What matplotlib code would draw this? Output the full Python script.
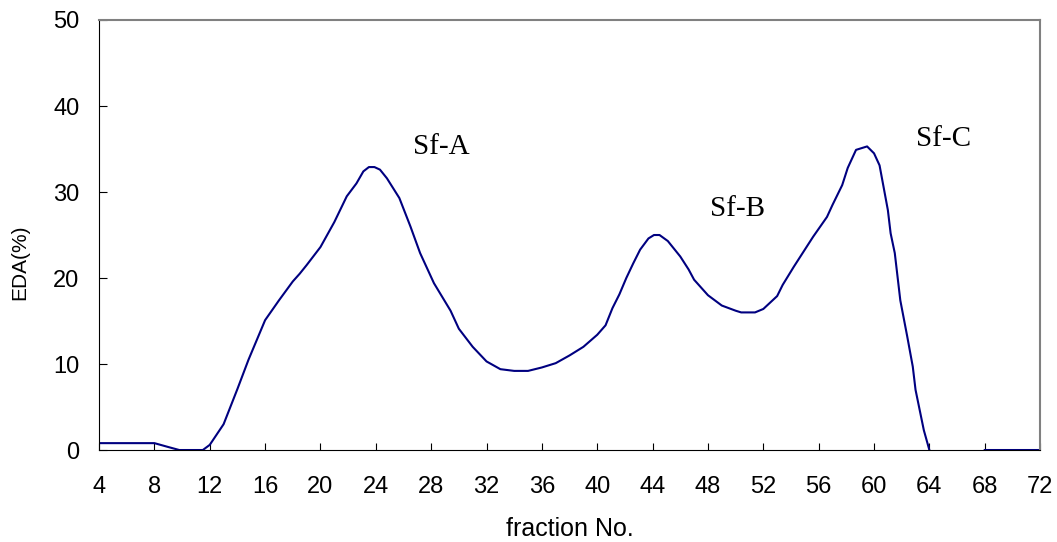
import numpy as np
import matplotlib.pyplot as plt

# fraction number and EDA (%)
fraction = [4, 5, 6, 7, 8, 9, 9.8, 10.5, 11.5, 12, 13, 14, 14.8, 16, 17, 18, 18.5, 19,
            20, 21, 21.9, 22.6, 23.1, 23.5, 23.9, 24.3, 24.8, 25.7, 26.5, 27.2, 28.2,
            29.4, 30, 31, 32, 33, 34, 35, 36, 37, 38, 39, 40, 40.6, 41.1, 41.6, 42.1,
            42.6, 43.1, 43.7, 44.1, 44.5, 45.1, 46, 46.6, 47, 48, 49, 50, 50.4, 51.4,
            52, 53, 53.4, 54.2, 55.6, 56.6, 57, 57.7, 58.1, 58.7, 59.5, 60, 60.4, 61,
            61.2, 61.5, 61.9, 62.4, 62.8, 63, 63.6, 64, 66, 68, 72]
eda = [0.8, 0.8, 0.8, 0.8, 0.8, 0.35, 0, 0, 0, 0.6, 3.0, 7.1, 10.5, 15.1, 17.4, 19.6, 20.5, 21.5,
       23.6, 26.5, 29.5, 31.0, 32.4, 32.9, 32.9, 32.6, 31.6, 29.3, 26.0, 22.9, 19.4,
       16.2, 14.1, 12.0, 10.3, 9.4, 9.2, 9.2, 9.6, 10.1, 11.0, 12.0, 13.4, 14.5, 16.5, 18.1, 20.0,
       21.7, 23.3, 24.6, 25.0, 25.0, 24.3, 22.5, 21.0, 19.8, 18.0, 16.8, 16.2, 16.0, 16.0,
       16.4, 17.9, 19.2, 21.3, 24.8, 27.1, 28.5, 30.8, 32.8, 34.9, 35.3, 34.5, 33.1, 27.9,
       25.2, 22.9, 17.4, 13.2, 9.7, 7.0, 2.3, 0, np.nan, 0, 0]

peak_names = ["Sf-A", "Sf-B", "Sf-C"]
peak_x = [28.7, 50.1, 65.0]
peak_y = [35.2, 28.0, 36.2]

plt.rcParams['font.family'] = ['Liberation Sans', 'DejaVu Sans']

fig = plt.figure(figsize=(10.57, 5.42), dpi=100)
ax = fig.add_axes([0.0937, 0.1697, 0.8903, 0.7934])

ax.plot(fraction, eda, color='#000080', lw=1.5)

for name, px, py in zip(peak_names, peak_x, peak_y):
    ax.text(px, py, name, ha='center', va='center', fontsize=21,
            family=['Liberation Serif', 'DejaVu Serif'])

ax.set_xlim(4, 72)
ax.set_ylim(0, 50)
ax.set_xticks(np.arange(4, 73, 4))
ax.set_yticks(np.arange(0, 51, 10))
ax.tick_params(axis='x', direction='in', length=5, pad=19, labelsize=17)
ax.tick_params(axis='y', direction='in', length=6, pad=14, labelsize=17)

ax.spines['top'].set_color('#808080')
ax.spines['right'].set_color('#808080')
ax.spines['top'].set_linewidth(1.5)
ax.spines['right'].set_linewidth(1.5)

ax.set_xlabel("fraction No.", fontsize=18)
ax.set_ylabel("EDA(%)", fontsize=15)
ax.xaxis.set_label_coords(0.5, -0.155)
ax.yaxis.set_label_coords(-0.074, 0.437)

fig.savefig("out.png", dpi=100)
